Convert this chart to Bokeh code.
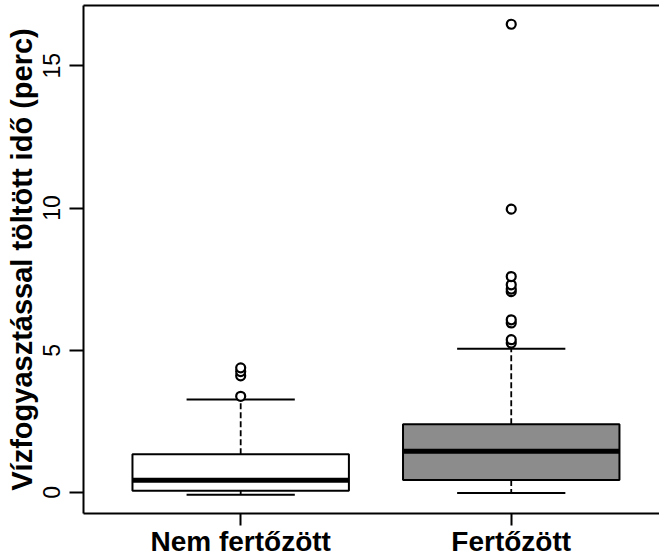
from bokeh.plotting import figure
from bokeh.models import FixedTicker, LinearAxis, Range1d, ColumnDataSource
from bokeh.embed import file_html
from bokeh.resources import INLINE

# ---- data ----
categories = ["Nem fertőzött", "Fertőzött"]
positions = [1, 2]
whisker_low = [-0.08, -0.02]
q1 = [0.06, 0.44]
median = [0.43, 1.45]
q3 = [1.34, 2.40]
whisker_high = [3.27, 5.05]
box_colors = ["#ffffff", "#8c8c8c"]
outliers_nem = [3.38, 4.10, 4.25, 4.38]
outliers_fert = [5.25, 5.37, 5.96, 6.07, 7.06, 7.15, 7.30, 7.59, 9.96, 16.46]
y_ticks = [0, 5, 10, 15]

box_w = 0.8
cap_w = 0.4

p = figure(width=659, height=559, output_backend="svg", toolbar_location=None,
           x_range=Range1d(0.419, 2.548), y_range=Range1d(-0.74, 17.12),
           min_border_left=83, min_border_right=0, min_border_top=5, min_border_bottom=45)
p.outline_line_color = None
p.xgrid.visible = False
p.ygrid.visible = False
p.background_fill_color = "white"

left = [x - box_w / 2 for x in positions]
right = [x + box_w / 2 for x in positions]
cap_l = [x - cap_w / 2 for x in positions]
cap_r = [x + cap_w / 2 for x in positions]

src = ColumnDataSource(dict(x=positions, left=left, right=right, cap_l=cap_l, cap_r=cap_r,
                            lo=whisker_low, q1=q1, med=median, q3=q3, hi=whisker_high,
                            color=box_colors))

# whiskers (dashed)
p.segment(x0="x", y0="q3", x1="x", y1="hi", source=src, line_color="black",
          line_width=1.8, line_dash="6 3")
p.segment(x0="x", y0="q1", x1="x", y1="lo", source=src, line_color="black",
          line_width=1.8, line_dash="6 3")
# caps
p.segment(x0="cap_l", y0="hi", x1="cap_r", y1="hi", source=src, line_color="black", line_width=2)
p.segment(x0="cap_l", y0="lo", x1="cap_r", y1="lo", source=src, line_color="black", line_width=2)
# boxes
p.quad(left="left", right="right", bottom="q1", top="q3", source=src,
       fill_color="color", line_color="black", line_width=2)
# medians
p.segment(x0="left", y0="med", x1="right", y1="med", source=src, line_color="black", line_width=5)

# outliers
ox = [positions[0]] * len(outliers_nem) + [positions[1]] * len(outliers_fert)
oy = outliers_nem + outliers_fert
p.scatter(ox, oy, marker="circle", size=9, fill_color="white", line_color="black", line_width=2.2)

font = "Liberation Sans"

# y axis
p.yaxis.ticker = FixedTicker(ticks=y_ticks)
p.yaxis.major_label_orientation = "vertical"
p.yaxis.major_label_text_font = font
p.yaxis.major_label_text_font_size = "23px"
p.yaxis.major_label_text_color = "black"
p.yaxis.major_label_standoff = 9
p.yaxis.major_tick_out = 14
p.yaxis.major_tick_in = 0
p.yaxis.minor_tick_out = 0
p.yaxis.minor_tick_in = 0
p.yaxis.major_tick_line_width = 2
p.yaxis.axis_line_width = 2
p.yaxis.axis_label = "Vízfogyasztással töltött idő (perc)"
p.yaxis.axis_label_text_font = font
p.yaxis.axis_label_text_font_style = "bold"
p.yaxis.axis_label_text_font_size = "29px"
p.yaxis.axis_label_text_color = "black"
p.yaxis.axis_label_standoff = 3

# x axis
p.xaxis.ticker = FixedTicker(ticks=positions)
p.xaxis.major_label_overrides = {positions[0]: categories[0], positions[1]: categories[1]}
p.xaxis.major_label_text_font = font
p.xaxis.major_label_text_font_style = "bold"
p.xaxis.major_label_text_font_size = "28px"
p.xaxis.major_label_text_color = "black"
p.xaxis.major_label_standoff = 0
p.xaxis.major_tick_out = 12
p.xaxis.major_tick_in = 0
p.xaxis.minor_tick_out = 0
p.xaxis.minor_tick_in = 0
p.xaxis.major_tick_line_width = 2
p.xaxis.axis_line_width = 2

# top border line
top = LinearAxis(ticker=FixedTicker(ticks=[]), major_label_text_font_size="0px",
                 major_tick_out=0, major_tick_in=0, minor_tick_out=0, minor_tick_in=0,
                 axis_line_width=2)
p.add_layout(top, "above")

open("out.html", "w").write(file_html(p, INLINE))
